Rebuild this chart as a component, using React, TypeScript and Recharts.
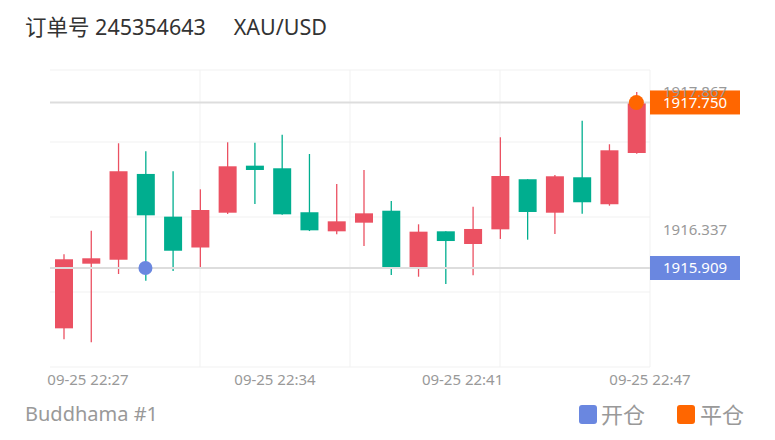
import React from 'react';
import { ComposedChart, Bar, XAxis, YAxis, CartesianGrid, ReferenceLine, ReferenceDot } from 'recharts';

const times = ['22:26','22:27','22:28','22:29','22:30','22:31','22:32','22:33','22:34','22:35','22:36','22:37','22:38','22:39','22:40','22:41','22:42','22:43','22:44','22:45','22:46','22:47'];
const opens = [1915.238, 1915.957, 1916.001, 1916.955, 1916.480, 1916.137, 1916.524, 1917.047, 1917.018, 1916.529, 1916.317, 1916.413, 1916.546, 1915.912, 1916.317, 1916.176, 1916.339, 1916.896, 1916.524, 1916.918, 1916.618, 1917.188];
const closes = [1916.006, 1916.017, 1916.985, 1916.495, 1916.101, 1916.554, 1917.040, 1916.999, 1916.506, 1916.328, 1916.428, 1916.517, 1915.906, 1916.313, 1916.209, 1916.343, 1916.932, 1916.532, 1916.929, 1916.640, 1917.218, 1917.750];
const highs = [1916.061, 1916.324, 1917.296, 1917.207, 1916.985, 1916.784, 1917.307, 1917.303, 1917.392, 1917.177, 1916.843, 1916.999, 1916.654, 1916.395, 1916.317, 1916.591, 1917.363, 1916.896, 1916.943, 1917.547, 1917.285, 1917.867];
const lows = [1915.116, 1915.083, 1915.842, 1915.768, 1915.876, 1915.915, 1916.510, 1916.621, 1916.500, 1916.320, 1916.284, 1916.154, 1915.831, 1915.812, 1915.731, 1915.828, 1916.232, 1916.224, 1916.287, 1916.513, 1916.602, 1917.180];

// label axis runs 0 .. 21 across the plot width
const xTickPos = [1.33, 7.875, 14.44, 21];
const xTickLabels = ['09-25 22:27', '09-25 22:34', '09-25 22:41', '09-25 22:47'];
const yTicks = [1916.337, 1917.867];
const yDomain = [1914.808, 1918.111];

const openPrice = 1915.909;
const closePrice = 1917.750;
const openIndex = 3;
const closeIndex = 21;

const title = '订单号 245354643';
const symbol = 'XAU/USD';
const account = 'Buddhama #1';
const legendOpen = '开仓';
const legendClose = '平仓';

const RED = '#eb5162';
const GREEN = '#00ae8f';
const ORANGE = '#ff6600';
const BLUE = '#6a87e0';
const FONT = "'Noto Sans', 'Noto Sans CJK SC', sans-serif";

const data = times.map((t, i) => ({ t, open: opens[i], close: closes[i], high: highs[i], low: lows[i] }));

const Candle = (p: any) => {
  const { x, y, width, height, payload } = p;
  if (!payload) return null;
  const { open, close, high, low } = payload;
  const color = close >= open ? RED : GREEN;
  const top = Math.min(y, y + height);
  const h = Math.abs(height);
  const py = (v: number) => top + ((high - v) / (high - low)) * h;
  const cx = x + width / 2;
  const bTop = py(Math.max(open, close));
  const bBot = py(Math.min(open, close));
  return (
    <g>
      <line x1={cx} x2={cx} y1={top} y2={top + h} stroke={color} strokeWidth={1.3} />
      <rect x={x} y={bTop} width={width} height={Math.max(bBot - bTop, 1)} fill={color} />
    </g>
  );
};

const PriceTag = (p: any) => {
  const vb = p.viewBox || {};
  const right = vb.x + vb.width;
  return (
    <g>
      <rect x={right} y={vb.y - 12} width={90} height={24} fill={p.color} />
      <text x={right + 13} y={vb.y} dy="0.35em" fill="#fff" fontSize={15} fontFamily={FONT}>{p.text}</text>
    </g>
  );
};

const XTick = (p: any) => {
  const i = xTickPos.indexOf(p.payload.value);
  return (
    <text x={p.x} y={p.y} dy={10} textAnchor="middle" fill="#999" fontSize={15} fontFamily={FONT}>
      {xTickLabels[i]}
    </text>
  );
};

const YTick = (p: any) => (
  <text x={p.x} y={p.y} dy="0.35em" textAnchor="start" fill="#999" fontSize={15} fontFamily={FONT}>
    {p.payload.value.toFixed(3)}
  </text>
);

const hFractions = [0, 72 / 297, 147 / 297, 222 / 297, 1];
const vFractions = [0.25, 0.5, 0.75, 1];

export default function App() {
  return (
    <div style={{ position: 'absolute', left: 0, top: 0, width: 775, height: 440, background: '#fff', fontFamily: FONT }}>
      <ComposedChart width={775} height={440} data={data} margin={{ top: 70, right: 25, bottom: 43, left: 50 }}>
        <CartesianGrid
          stroke="#f1f1f1"
          horizontalCoordinatesGenerator={(args: any) => {
            const o = args.offset || { top: 70, height: 297 };
            return hFractions.map((f) => o.top + f * o.height);
          }}
          verticalCoordinatesGenerator={(args: any) => {
            const o = args.offset || { left: 50, width: 600 };
            return vFractions.map((f) => o.left + f * o.width);
          }}
        />
        <XAxis dataKey="t" type="category" hide height={0} />
        <XAxis
          xAxisId="lbl"
          type="number"
          domain={[0, 21]}
          ticks={xTickPos}
          interval={0}
          axisLine={false}
          tickLine={false}
          height={30}
          tick={<XTick />}
          allowDataOverflow
        />
        <YAxis
          orientation="right"
          width={100}
          domain={yDomain}
          ticks={yTicks}
          interval={0}
          axisLine={false}
          tickLine={false}
          tickMargin={7}
          tick={<YTick />}
          allowDataOverflow
        />
        <ReferenceLine y={openPrice} stroke="#dddddd" strokeWidth={2} label={<PriceTag color={BLUE} text={openPrice.toFixed(3)} />} />
        <ReferenceLine y={closePrice} stroke="#dddddd" strokeWidth={2} label={<PriceTag color={ORANGE} text={closePrice.toFixed(3)} />} />
        <Bar dataKey={(d: any) => [d.low, d.high]} barSize={18} shape={<Candle />} isAnimationActive={false} />
        <ReferenceDot x={times[openIndex]} y={openPrice} r={7} fill={BLUE} stroke="none" />
        <ReferenceDot x={times[closeIndex]} y={closePrice} r={7.5} fill={ORANGE} stroke="none" />
      </ComposedChart>
      <div style={{ position: 'absolute', left: 25, top: 13, fontSize: 21.5, lineHeight: '28px', color: '#333', whiteSpace: 'pre' }}>
        {title + '     ' + symbol}
      </div>
      <div style={{ position: 'absolute', left: 25, top: 400, fontSize: 20, lineHeight: '28px', color: '#999' }}>{account}</div>
      <div style={{ position: 'absolute', left: 579, top: 405, width: 18, height: 19, borderRadius: 3, background: BLUE }} />
      <div style={{ position: 'absolute', left: 601, top: 399, fontSize: 22, lineHeight: '30px', color: '#999' }}>{legendOpen}</div>
      <div style={{ position: 'absolute', left: 677, top: 405, width: 18, height: 19, borderRadius: 3, background: ORANGE }} />
      <div style={{ position: 'absolute', left: 700, top: 399, fontSize: 22, lineHeight: '30px', color: '#999' }}>{legendClose}</div>
    </div>
  );
}
